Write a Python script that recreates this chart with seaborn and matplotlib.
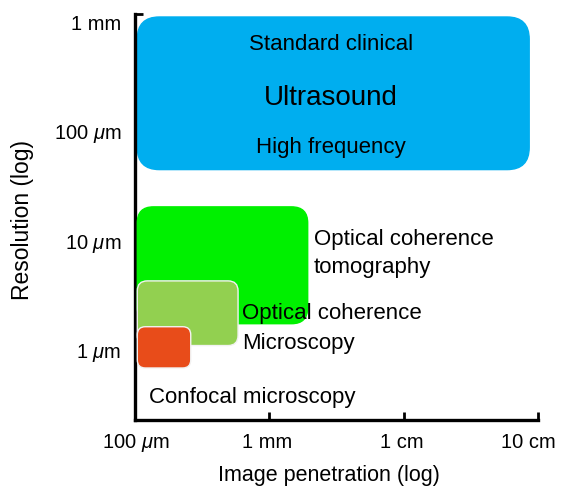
import numpy as np
import matplotlib
matplotlib.use("Agg")
import matplotlib.pyplot as plt
import matplotlib.transforms as mtransforms
import seaborn as sns
from matplotlib.patches import FancyBboxPatch

# imaging modalities: penetration range (um) and resolution range (um)
modalities = ["Ultrasound", "OCT", "OCM", "Confocal"]
pen_min = [104, 104, 104, 104]
pen_max = [86000, 1930, 585, 260]
res_min = [40, 1.65, 1.05, 0.66]
res_max = [940, 18.5, 4.0, 1.55]
box_colors = ["#00AEEF", "#00F000", "#92D050", "#E84C1A"]
corner_px = [22, 16, 10, 8]

x_ticks = [100, 1000, 10000, 100000]
x_labels = ["100 $\\mu$m", "1 mm", "1 cm", "10 cm"]
y_ticks = [1, 10, 100, 1000]
y_labels = ["1 $\\mu$m", "10 $\\mu$m", "100 $\\mu$m", "1 mm"]

sns.set_theme(style="white")
plt.rcParams["font.family"] = ["Liberation Sans", "DejaVu Sans"]
plt.rcParams["mathtext.fontset"] = "custom"
plt.rcParams["mathtext.rm"] = "Liberation Sans"
plt.rcParams["mathtext.it"] = "Liberation Sans:italic"

W, H = 562, 491
fig = plt.figure(figsize=(W / 100, H / 100), dpi=100)
ax = fig.add_axes([135 / W, 1 - 420 / H, 403 / W, 406 / H])
ax.set_xscale("log")
ax.set_yscale("log")
ax.set_xlim(100, 100000)
ax.set_ylim(0.225, 1000)

# data -> axes fraction so corners stay round on log axes
to_axes = ax.transData + ax.transAxes.inverted()
ax_w_px = 403
for i in range(len(modalities)):
    (x0, y0) = to_axes.transform((pen_min[i], res_min[i]))
    (x1, y1) = to_axes.transform((pen_max[i], res_max[i]))
    r = corner_px[i] / ax_w_px
    box = FancyBboxPatch((x0, y0), x1 - x0, y1 - y0,
                         boxstyle=f"round,pad=0,rounding_size={r}",
                         transform=ax.transAxes, facecolor=box_colors[i],
                         edgecolor="#f2f2f2" if i >= 2 else box_colors[i],
                         linewidth=1, zorder=2 + i)
    ax.add_patch(box)

def px_text(px, py, s, size, ha="left"):
    ax.text((px - 135) / 403, (420 - py) / 406, s, transform=ax.transAxes,
            fontsize=size, ha=ha, va="center", color="black", zorder=10)

px_text(331, 45, "Standard clinical", 16, ha="center")
px_text(331, 98, "Ultrasound", 20, ha="center")
px_text(331, 147, "High frequency", 16, ha="center")
px_text(314, 240, "Optical coherence", 16)
px_text(314, 268, "tomography", 16)
px_text(242, 313, "Optical coherence", 16)
px_text(242, 344, "Microscopy", 16)
px_text(149, 398, "Confocal microscopy", 16)

ax.set_xticks(x_ticks)
ax.set_xticklabels(x_labels)
ax.set_yticks(y_ticks)
ax.set_yticklabels(y_labels)
ax.minorticks_off()
ax.tick_params(axis="both", direction="in", length=6, width=2, color="black",
               labelsize=14.5, labelcolor="black")
ax.tick_params(axis="x", pad=9, bottom=True)
ax.tick_params(axis="y", pad=10, left=True)

# labels in the original sit a little off their ticks
x_shift = [1, -2, -2, -10]
for lbl, dx in zip(ax.get_xticklabels(), x_shift):
    lbl.set_transform(lbl.get_transform() +
                      mtransforms.ScaledTranslation(dx / 100, 0, fig.dpi_scale_trans))
y_shift = [-2, -4, -6, -8]
for lbl, dy in zip(ax.get_yticklabels(), y_shift):
    lbl.set_transform(lbl.get_transform() +
                      mtransforms.ScaledTranslation(0, dy / 100, fig.dpi_scale_trans))

sns.despine(ax=ax)
for side in ["left", "bottom"]:
    ax.spines[side].set_linewidth(2.4)
    ax.spines[side].set_color("black")

ax.set_xlabel("Image penetration (log)", fontsize=15.5, color="black")
ax.set_ylabel("Resolution (log)", fontsize=16.5, color="black")
ax.xaxis.set_label_coords((329 - 135) / 403, (420 - 465) / 406)
ax.yaxis.set_label_coords((34 - 135) / 403, (420 - 220) / 406)

fig.savefig("out.png", dpi=100)
